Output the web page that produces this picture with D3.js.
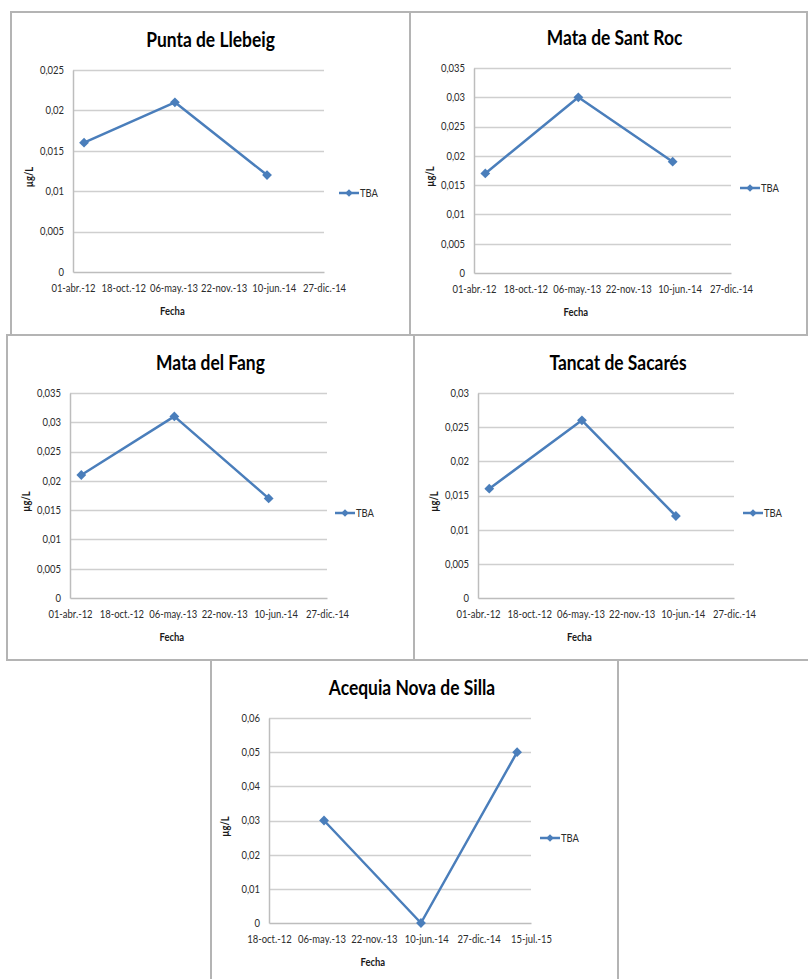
<!DOCTYPE html>
<html>
<head>
<meta charset="utf-8">
<script src="https://cdn.jsdelivr.net/npm/d3@7"></script>
<style>
  body { margin: 0; background: #fff; }
  svg { display: block; }
</style>
</head>
<body>
<svg id="chart"></svg>
<script>
// chart data
const titles = ["Punta de Llebeig", "Mata de Sant Roc", "Mata del Fang", "Tancat de Sacarés", "Acequia Nova de Silla"];
const sampleDates = [
    ["2012-05-15", "2013-05-12", "2014-05-14"],
    ["2012-05-15", "2013-05-12", "2014-05-14"],
    ["2012-05-15", "2013-05-12", "2014-05-14"],
    ["2012-05-15", "2013-05-12", "2014-05-14"],
    ["2013-05-16", "2014-05-21", "2015-05-23"]
];
const tbaValues = [
    [0.016, 0.021, 0.012],
    [0.017, 0.030, 0.019],
    [0.021, 0.031, 0.017],
    [0.016, 0.026, 0.012],
    [0.030, 0.000, 0.050]
];
const yMax = [0.025, 0.035, 0.035, 0.03, 0.06];
const yStep = [0.005, 0.005, 0.005, 0.005, 0.01];
const xAxisStart = ["2012-04-01", "2012-04-01", "2012-04-01", "2012-04-01", "2012-10-18"];
const xTickDays = 200;
const xTickCount = 6;
const mesesEs = ["ene.", "feb.", "mar.", "abr.", "may.", "jun.", "jul.", "ago.", "sep.", "oct.", "nov.", "dic."];
const seriesName = "TBA";

// layout of each panel (frame + plot area + legend)
const layout = [
    {frame: [11, 12, 399, 323], plot: [73, 70, 324, 272], legend: [339, 193]},
    {frame: [410, 12, 397, 323], plot: [474, 68, 731, 273], legend: [740, 188]},
    {frame: [7, 335, 407, 325], plot: [70, 393, 327, 598], legend: [335, 513]},
    {frame: [414, 335, 400, 325], plot: [478, 393, 734, 598], legend: [743, 513]},
    {frame: [211, 660, 407, 340], plot: [269, 718, 531, 923], legend: [540, 838]}
];

const W = 808, H = 979;
const blue = "#4a7ebb";
const font = "Lato, 'Open Sans', sans-serif";
const narrow = 0.9;   // horizontal squeeze, the original font is condensed

const svg = d3.select("#chart").attr("width", W).attr("height", H);
svg.append("rect").attr("width", W).attr("height", H).attr("fill", "#fff");

const parse = d3.timeParse("%Y-%m-%d");
const esLocale = d3.formatLocale({decimal: ",", thousands: ".", grouping: [3], currency: ["", "€"]});
const yFmt = esLocale.format(".3~f");
const fmtDay = d3.timeFormat("%d"), fmtYear = d3.timeFormat("%y");
const xFmt = d => fmtDay(d) + "-" + mesesEs[d.getMonth()] + "-" + fmtYear(d);

function addText(g, x, y, str, o) {
    const t = g.append("text")
        .attr("transform", `translate(${x},${y}) rotate(${o.rotate || 0}) scale(${o.k || narrow},1)`)
        .attr("text-anchor", o.anchor || "start")
        .attr("font-family", font)
        .attr("font-weight", o.weight || "normal")
        .attr("font-size", o.size || 10.5)
        .attr("fill", o.fill || "#2b2b2b")
        .text(str);
    return t;
}

const diamond = s => d3.symbol(d3.symbolSquare, s)();

titles.forEach((title, i) => {
    const L = layout[i];
    const [px0, py0, px1, py1] = L.plot;

    const g = svg.append("g");

    // frame
    g.append("rect")
        .attr("x", L.frame[0]).attr("y", L.frame[1])
        .attr("width", L.frame[2]).attr("height", L.frame[3])
        .attr("fill", "#fff")
        .attr("stroke", "#b4b4b4")
        .attr("stroke-width", 2);

    const start = parse(xAxisStart[i]);
    const xTicks = d3.range(xTickCount).map(k => d3.timeDay.offset(start, k * xTickDays));
    const x = d3.scaleTime()
        .domain([xTicks[0], xTicks[xTicks.length - 1]])
        .range([px0, px1]);
    const y = d3.scaleLinear()
        .domain([0, yMax[i]])
        .range([py1, py0]);
    const yTicks = d3.range(0, yMax[i] + yStep[i] / 2, yStep[i]);

    // gridlines
    g.append("g")
        .selectAll("line")
        .data(yTicks.slice(1))
        .join("line")
        .attr("x1", px0).attr("x2", px1)
        .attr("y1", d => Math.round(y(d)) + 0.5)
        .attr("y2", d => Math.round(y(d)) + 0.5)
        .attr("stroke", "#cfcfcf")
        .attr("stroke-width", 1.5);

    // y axis
    const yAxis = g.append("g")
        .attr("transform", `translate(${px0},0)`)
        .call(d3.axisLeft(y).tickValues(yTicks).tickFormat(yFmt).tickSize(0).tickPadding(9));
    yAxis.selectAll("text").attr("x", -9 / narrow);
    // x axis
    const xAxis = g.append("g")
        .attr("transform", `translate(0,${py1})`)
        .call(d3.axisBottom(x).tickValues(xTicks).tickFormat(xFmt).tickSize(0).tickPadding(13));

    [yAxis, xAxis].forEach(ax => {
        ax.select(".domain").attr("stroke", "#bdbdbd").attr("stroke-width", 1.5);
        ax.selectAll("text")
            .attr("transform", `scale(${narrow},1)`)
            .attr("font-family", font)
            .attr("font-size", 10.5)
            .attr("fill", "#2b2b2b");
    });

    // title
    addText(g, (px0 + px1) / 2 + 12, py0 - 23, title,
        {anchor: "middle", weight: "bold", size: 20.5, k: 0.85, fill: "#000"});

    // axis titles
    addText(g, px0 - 40, (py0 + py1) / 2 + 6, "µg/L",
        {anchor: "middle", weight: "bold", rotate: -90, fill: "#1a1a1a"});
    addText(g, x(xTicks[2]) - 1, py1 + 43, "Fecha",
        {anchor: "middle", weight: "bold", fill: "#1a1a1a"});

    // series
    const pts = sampleDates[i].map((d, k) => ({date: parse(d), value: tbaValues[i][k]}));
    const line = d3.line().x(d => x(d.date)).y(d => y(d.value));
    g.append("path")
        .datum(pts)
        .attr("d", line)
        .attr("fill", "none")
        .attr("stroke", blue)
        .attr("stroke-width", 2.5)
        .attr("stroke-linejoin", "round");
    g.selectAll(".pt")
        .data(pts)
        .join("path")
        .attr("class", "pt")
        .attr("transform", d => `translate(${x(d.date)},${y(d.value)}) rotate(45)`)
        .attr("d", diamond(48))
        .attr("fill", blue);

    // legend
    const [lx, ly] = L.legend;
    g.append("line")
        .attr("x1", lx).attr("x2", lx + 20)
        .attr("y1", ly).attr("y2", ly)
        .attr("stroke", blue).attr("stroke-width", 2.5);
    g.append("path")
        .attr("transform", `translate(${lx + 10},${ly}) rotate(45)`)
        .attr("d", diamond(28))
        .attr("fill", blue);
    addText(g, lx + 21, ly + 4, seriesName, {});
});
</script>
</body>
</html>
